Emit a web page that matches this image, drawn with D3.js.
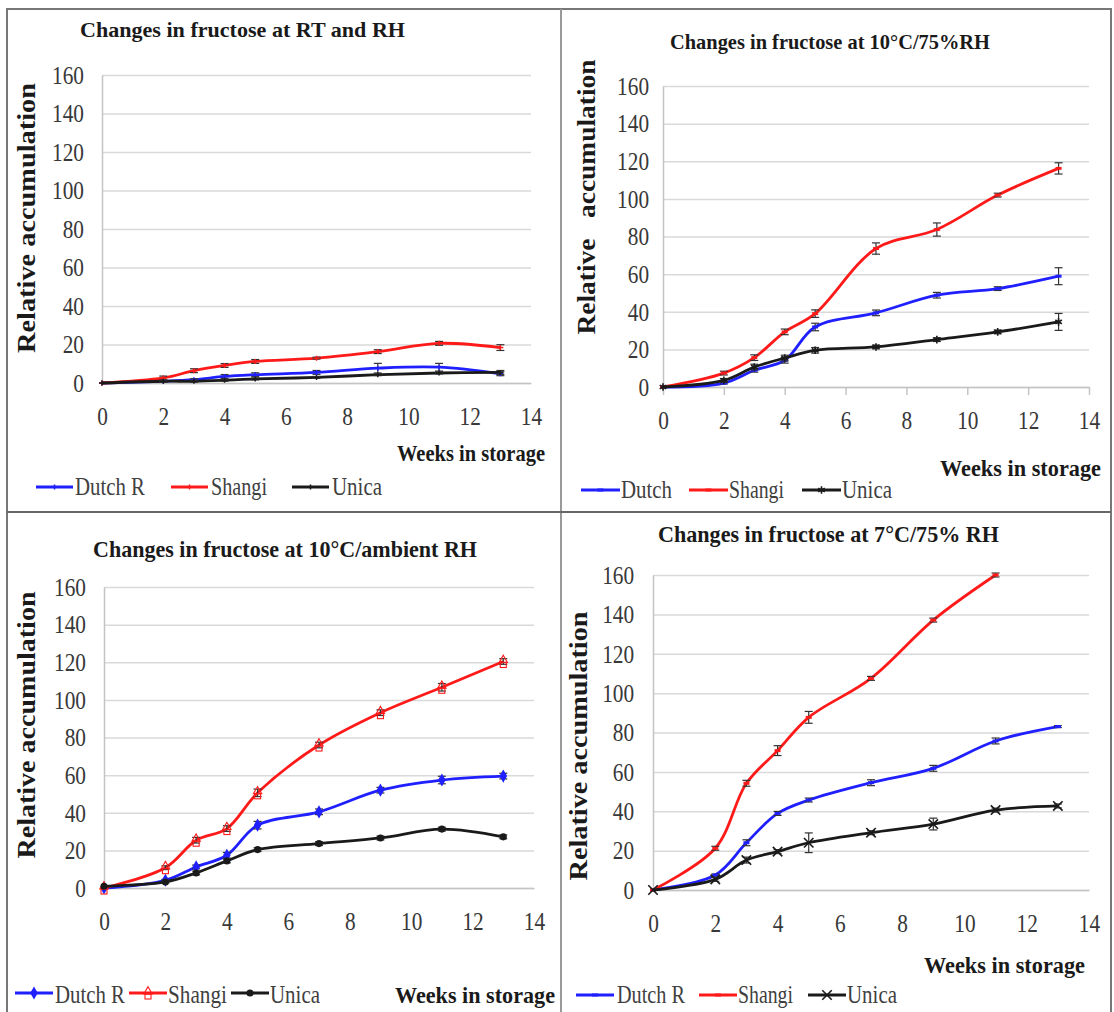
<!DOCTYPE html>
<html>
<head>
<meta charset="utf-8">
<script src="https://cdn.jsdelivr.net/npm/d3@7"></script>
<style>
  body { margin: 0; background: #fff; }
  svg { display: block; }
</style>
</head>
<body>
<div id="chart"></div>
<script>
// Storage weeks and axis ticks
const weeks = [0, 2, 3, 4, 5, 7, 9, 11, 13];
const xTicks = [0, 2, 4, 6, 8, 10, 12, 14];
const yTicks = [0, 20, 40, 60, 80, 100, 120, 140, 160];

// Panel 1: RT and RH
const rtDutch  = [0, 0.9, 1.7, 3.4, 4.3, 5.5, 7.7, 8.2, 4.8];
const rtShangi = [0, 2.6, 6.4, 9.1, 11.2, 12.9, 16.3, 20.6, 18.4];
const rtUnica  = [0, 0.9, 0.9, 1.4, 2.1, 2.9, 4.3, 5.2, 5.5];
const rtDutchErr  = [0, 0.5, 0.5, 1, 1, 1, 2.5, 2, 1];
const rtShangiErr = [0, 1, 1, 1, 1, 0.5, 1, 1, 1.5];
const rtUnicaErr  = [0, 0.5, 0.5, 0.5, 0.5, 0.5, 0.5, 0.5, 1];

// Panel 2: 10°C / 75% RH
const c10Dutch  = [0, 2.1, 8.9, 14.2, 31.9, 39.4, 48.8, 52.3, 58.9];
const c10Shangi = [0, 7.4, 15.6, 29.3, 39, 73.6, 83.7, 102, 116.2];
const c10Unica  = [0, 3.5, 10.6, 15.4, 19.5, 21.3, 25.2, 29.3, 34.6];
const c10DutchErr  = [0, 0.5, 1, 1.5, 2, 1.5, 1.5, 1, 4.5];
const c10ShangiErr = [0, 1, 1.5, 1.5, 2, 3, 3.5, 1, 3];
const c10UnicaErr  = [0, 1, 1.5, 1.5, 1.5, 1, 1, 1, 4.5];

// Panel 3: 10°C / ambient RH
const ambDutch  = [0, 4.1, 11.2, 17.4, 33.4, 40.5, 52, 57.4, 59.5];
const ambShangi = [0, 10.8, 25.4, 31.6, 50.6, 76, 93.2, 106.7, 120.4];
const ambUnica  = [0.9, 3.2, 8, 14.4, 20.4, 23.6, 26.6, 31.3, 27.2];
const ambDutchErr  = [0, 0.5, 1, 1.5, 2, 1.5, 1.5, 2, 1.5];
const ambShangiErr = [0, 1, 1.5, 1.5, 2, 1.5, 1.5, 2, 1.5];
const ambUnicaErr  = [0, 0.5, 1, 1, 1, 1, 1, 1, 1];

// Panel 4: 7°C / 75% RH (Shangi runs off the top after week 11)
const c7Dutch  = [0, 7.6, 24, 38.9, 45.7, 54.5, 61.8, 75.7, 83];
const c7Shangi = [0, 21.2, 54.2, 70.8, 87.7, 107.5, 137.1, 160, null];
const c7Unica  = [0, 5.4, 15.2, 19.5, 24, 29.1, 33.5, 40.6, 42.7];
const c7DutchErr  = [0, 0.5, 1.5, 1, 1, 1.5, 1.5, 1.5, 0.5];
const c7ShangiErr = [0, 1, 1.5, 2.5, 3, 1, 1, 1, 0];
const c7UnicaErr  = [0, 1, 1.5, 1, 5, 1, 3, 1, 1];

const titles = [
  "Changes in fructose at RT and RH",
  "Changes in fructose at 10°C/75%RH",
  "Changes in fructose at 10°C/ambient RH",
  "Changes in fructose at 7°C/75% RH"
];
const yTitle = "Relative accumulation";
const xTitle = "Weeks in storage";

const FONT = "'Liberation Serif', 'Times New Roman', serif";
const BLUE = "#1f1fff", RED = "#ff1a1a", BLACK = "#1a1a1a";

const width = 1114, height = 1012;
const svg = d3.select("#chart").append("svg")
    .attr("width", width)
    .attr("height", height)
    .style("font-family", FONT);

// Panel frame: outer border and cross dividers
svg.append("rect")
    .attr("x", 7).attr("y", 9)
    .attr("width", 1104).attr("height", 1020)
    .attr("fill", "none").attr("stroke", "#777").attr("stroke-width", 2);
svg.append("line").attr("x1", 561).attr("x2", 561).attr("y1", 9).attr("y2", 1012)
    .attr("stroke", "#999").attr("stroke-width", 2);
svg.append("line").attr("x1", 7).attr("x2", 1111).attr("y1", 512).attr("y2", 512)
    .attr("stroke", "#666").attr("stroke-width", 2);

const panels = [
  {
    title: titles[0], plot: {left: 102, right: 531, bottom: 383, top: 75},
    titlePos: {x: 80, w: 325, base: 37, size: 22},
    yLab: {bx: 35, cy: 218, len: 270, text: yTitle},
    xLab: {x: 397, w: 148, base: 461},
    yPad: 22, xTick: 0,
    series: [
      {name: "Dutch R", vals: rtDutch, err: rtDutchErr, color: BLUE, mark: "plus"},
      {name: "Shangi", vals: rtShangi, err: rtShangiErr, color: RED, mark: "plus"},
      {name: "Unica", vals: rtUnica, err: rtUnicaErr, color: BLACK, mark: "plus"}
    ],
    legend: {y: 487, base: 495, len: 37,
      items: [{lx: 36, tx: 75, tw: 70}, {lx: 171, tx: 211, tw: 56}, {lx: 292, tx: 332, tw: 50}]}
  },
  {
    title: titles[1], plot: {left: 663, right: 1089, bottom: 387, top: 86},
    titlePos: {x: 670, w: 320, base: 49, size: 21},
    yLab: {bx: 595, cy: 197, len: 275, text: "Relative\u00a0\u00a0\u00a0accumulation"},
    xLab: {x: 940, w: 161, base: 476},
    yPad: 17, xTick: 8,
    series: [
      {name: "Dutch", vals: c10Dutch, err: c10DutchErr, color: BLUE, mark: "dash"},
      {name: "Shangi", vals: c10Shangi, err: c10ShangiErr, color: RED, mark: "dash"},
      {name: "Unica", vals: c10Unica, err: c10UnicaErr, color: BLACK, mark: "asterisk"}
    ],
    legend: {y: 490, base: 498, len: 39,
      items: [{lx: 581, tx: 621, tw: 51}, {lx: 689, tx: 729, tw: 55}, {lx: 802, tx: 842, tw: 50}]}
  },
  {
    title: titles[2], plot: {left: 104, right: 534, bottom: 888, top: 587},
    titlePos: {x: 93, w: 384, base: 557, size: 24},
    yLab: {bx: 35, cy: 725, len: 267, text: yTitle},
    xLab: {x: 395, w: 160, base: 1003},
    yPad: 22, xTick: 0,
    series: [
      {name: "Dutch R", vals: ambDutch, err: ambDutchErr, color: BLUE, mark: "diamond"},
      {name: "Shangi", vals: ambShangi, err: ambShangiErr, color: RED, mark: "triSquare"},
      {name: "Unica", vals: ambUnica, err: ambUnicaErr, color: BLACK, mark: "circle"}
    ],
    legend: {y: 993, base: 1003, len: 38,
      items: [{lx: 15, tx: 55, tw: 70}, {lx: 129, tx: 168, tw: 59}, {lx: 231, tx: 270, tw: 50}]}
  },
  {
    title: titles[3], plot: {left: 653, right: 1089, bottom: 890, top: 575},
    titlePos: {x: 658, w: 341, base: 542, size: 23},
    yLab: {bx: 587, cy: 746, len: 269, text: yTitle},
    xLab: {x: 924, w: 161, base: 973},
    yPad: 23, xTick: 0,
    series: [
      {name: "Dutch R", vals: c7Dutch, err: c7DutchErr, color: BLUE, mark: "dash"},
      {name: "Shangi", vals: c7Shangi, err: c7ShangiErr, color: RED, mark: "dash"},
      {name: "Unica", vals: c7Unica, err: c7UnicaErr, color: BLACK, mark: "times"}
    ],
    legend: {y: 995, base: 1003, len: 38,
      items: [{lx: 576, tx: 617, tw: 68}, {lx: 699, tx: 738, tw: 55}, {lx: 808, tx: 847, tw: 50}]}
  }
];

// Draw one marker of a given kind centred at (cx, cy)
function drawMarker(g, kind, color, cx, cy) {
  const t = `translate(${cx},${cy})`;
  if (kind === "plus") {
    g.append("path").attr("transform", t).attr("d", "M-3,0H3M0,-2.5V2.5")
        .attr("stroke", color).attr("stroke-width", 1.5).attr("fill", "none");
  } else if (kind === "dash") {
    g.append("path").attr("transform", t).attr("d", "M-3,0H3")
        .attr("stroke", color).attr("stroke-width", 3);
  } else if (kind === "asterisk") {
    g.append("path").attr("transform", t).attr("d", d3.symbol(d3.symbolAsterisk, 40)())
        .attr("stroke", color).attr("stroke-width", 1.6).attr("fill", "none");
  } else if (kind === "times") {
    g.append("path").attr("transform", t).attr("d", d3.symbol(d3.symbolTimes, 60)())
        .attr("stroke", color).attr("stroke-width", 1.6).attr("fill", "none");
  } else if (kind === "diamond") {
    g.append("path").attr("transform", t).attr("d", d3.symbol(d3.symbolDiamond, 50)())
        .attr("fill", color);
  } else if (kind === "circle") {
    g.append("path").attr("transform", t).attr("d", d3.symbol(d3.symbolCircle, 40)())
        .attr("fill", color);
  } else if (kind === "triSquare") {
    g.append("path").attr("transform", `translate(${cx},${cy - 1.5})`)
        .attr("d", d3.symbol(d3.symbolTriangle, 30)())
        .attr("stroke", color).attr("stroke-width", 1.1).attr("fill", "none");
    g.append("rect").attr("x", cx - 3).attr("y", cy + 1).attr("width", 6).attr("height", 5)
        .attr("stroke", color).attr("stroke-width", 1.1).attr("fill", "none");
  }
}

function drawPanel(p) {
  const x = d3.scaleLinear().domain([0, 14]).range([p.plot.left, p.plot.right]);
  const y = d3.scaleLinear().domain([0, 160]).range([p.plot.bottom, p.plot.top]);
  const g = svg.append("g");

  // Gridlines
  g.append("g")
      .attr("transform", `translate(${p.plot.left},0)`)
      .call(d3.axisLeft(y).tickValues(yTicks).tickSize(-(p.plot.right - p.plot.left)).tickFormat(""))
      .call(a => a.select(".domain").remove())
      .call(a => a.selectAll("line").attr("stroke", "#d9d9d9").attr("stroke-width", 1.5));

  // Y axis
  g.append("g")
      .attr("transform", `translate(${p.plot.left},0)`)
      .call(d3.axisLeft(y).tickValues(yTicks).tickSize(0).tickPadding(p.yPad))
      .attr("font-family", FONT).attr("font-size", 26)
      .call(a => a.select(".domain").attr("stroke", "#c4c4c4").attr("stroke-width", 1.5))
      .call(a => a.selectAll("text").attr("fill", "#383838").attr("transform", "scale(0.82,1)"));

  // X axis
  g.append("g")
      .attr("transform", `translate(0,${p.plot.bottom})`)
      .call(d3.axisBottom(x).tickValues(xTicks).tickSize(p.xTick).tickSizeOuter(0).tickPadding(24 - p.xTick))
      .attr("font-family", FONT).attr("font-size", 26)
      .call(a => a.select(".domain").attr("stroke", "#c4c4c4").attr("stroke-width", 1.5))
      .call(a => a.selectAll("line").attr("stroke", "#c4c4c4").attr("stroke-width", 1.5))
      .call(a => a.selectAll("text").attr("fill", "#383838").attr("transform", "scale(0.82,1)"));

  // Series lines, error bars and markers
  const line = d3.line()
      .x(d => x(d[0]))
      .y(d => y(d[1]))
      .curve(d3.curveCatmullRom.alpha(0.5));

  p.series.forEach(s => {
    const pts = weeks.map((w, i) => [w, s.vals[i], s.err[i]]).filter(d => d[1] != null);
    g.append("path")
        .attr("d", line(pts))
        .attr("fill", "none")
        .attr("stroke", s.color)
        .attr("stroke-width", 2.8);

    const eb = g.append("g").attr("stroke", "#333").attr("stroke-width", 1.2);
    pts.filter(d => d[2] > 0).forEach(d => {
      const cx = x(d[0]), yl = y(d[1] - d[2]), yh = y(d[1] + d[2]);
      eb.append("line").attr("x1", cx).attr("x2", cx).attr("y1", yl).attr("y2", yh);
      eb.append("line").attr("x1", cx - 4).attr("x2", cx + 4).attr("y1", yl).attr("y2", yl);
      eb.append("line").attr("x1", cx - 4).attr("x2", cx + 4).attr("y1", yh).attr("y2", yh);
    });

    const mk = g.append("g");
    pts.forEach(d => drawMarker(mk, s.mark, s.color, x(d[0]), y(d[1])));
  });

  // Title
  g.append("text")
      .attr("x", p.titlePos.x).attr("y", p.titlePos.base)
      .attr("font-family", FONT)
      .attr("font-size", p.titlePos.size).attr("font-weight", "bold").attr("fill", "#1a1a1a")
      .attr("textLength", p.titlePos.w).attr("lengthAdjust", "spacingAndGlyphs")
      .text(p.title);

  // Y axis title
  g.append("text")
      .attr("transform", `translate(${p.yLab.bx},${p.yLab.cy}) rotate(-90)`)
      .attr("text-anchor", "middle")
      .attr("font-family", FONT)
      .attr("font-size", 25).attr("font-weight", "bold").attr("fill", "#1a1a1a")
      .attr("textLength", p.yLab.len).attr("lengthAdjust", "spacingAndGlyphs")
      .text(p.yLab.text);

  // X axis title
  g.append("text")
      .attr("x", p.xLab.x).attr("y", p.xLab.base)
      .attr("font-family", FONT)
      .attr("font-size", 23).attr("font-weight", "bold").attr("fill", "#1a1a1a")
      .attr("textLength", p.xLab.w).attr("lengthAdjust", "spacingAndGlyphs")
      .text(xTitle);

  // Legend
  const lg = g.append("g");
  p.series.forEach((s, i) => {
    const it = p.legend.items[i];
    lg.append("line")
        .attr("x1", it.lx).attr("x2", it.lx + p.legend.len)
        .attr("y1", p.legend.y).attr("y2", p.legend.y)
        .attr("stroke", s.color).attr("stroke-width", 2.8);
    drawMarker(lg, s.mark, s.color, it.lx + p.legend.len / 2, p.legend.y);
    lg.append("text")
        .attr("x", it.tx).attr("y", p.legend.base)
        .attr("font-family", FONT)
        .attr("font-size", 26).attr("fill", "#404040")
        .attr("textLength", it.tw).attr("lengthAdjust", "spacingAndGlyphs")
        .text(s.name);
  });
}

panels.forEach(drawPanel);
</script>
</body>
</html>
